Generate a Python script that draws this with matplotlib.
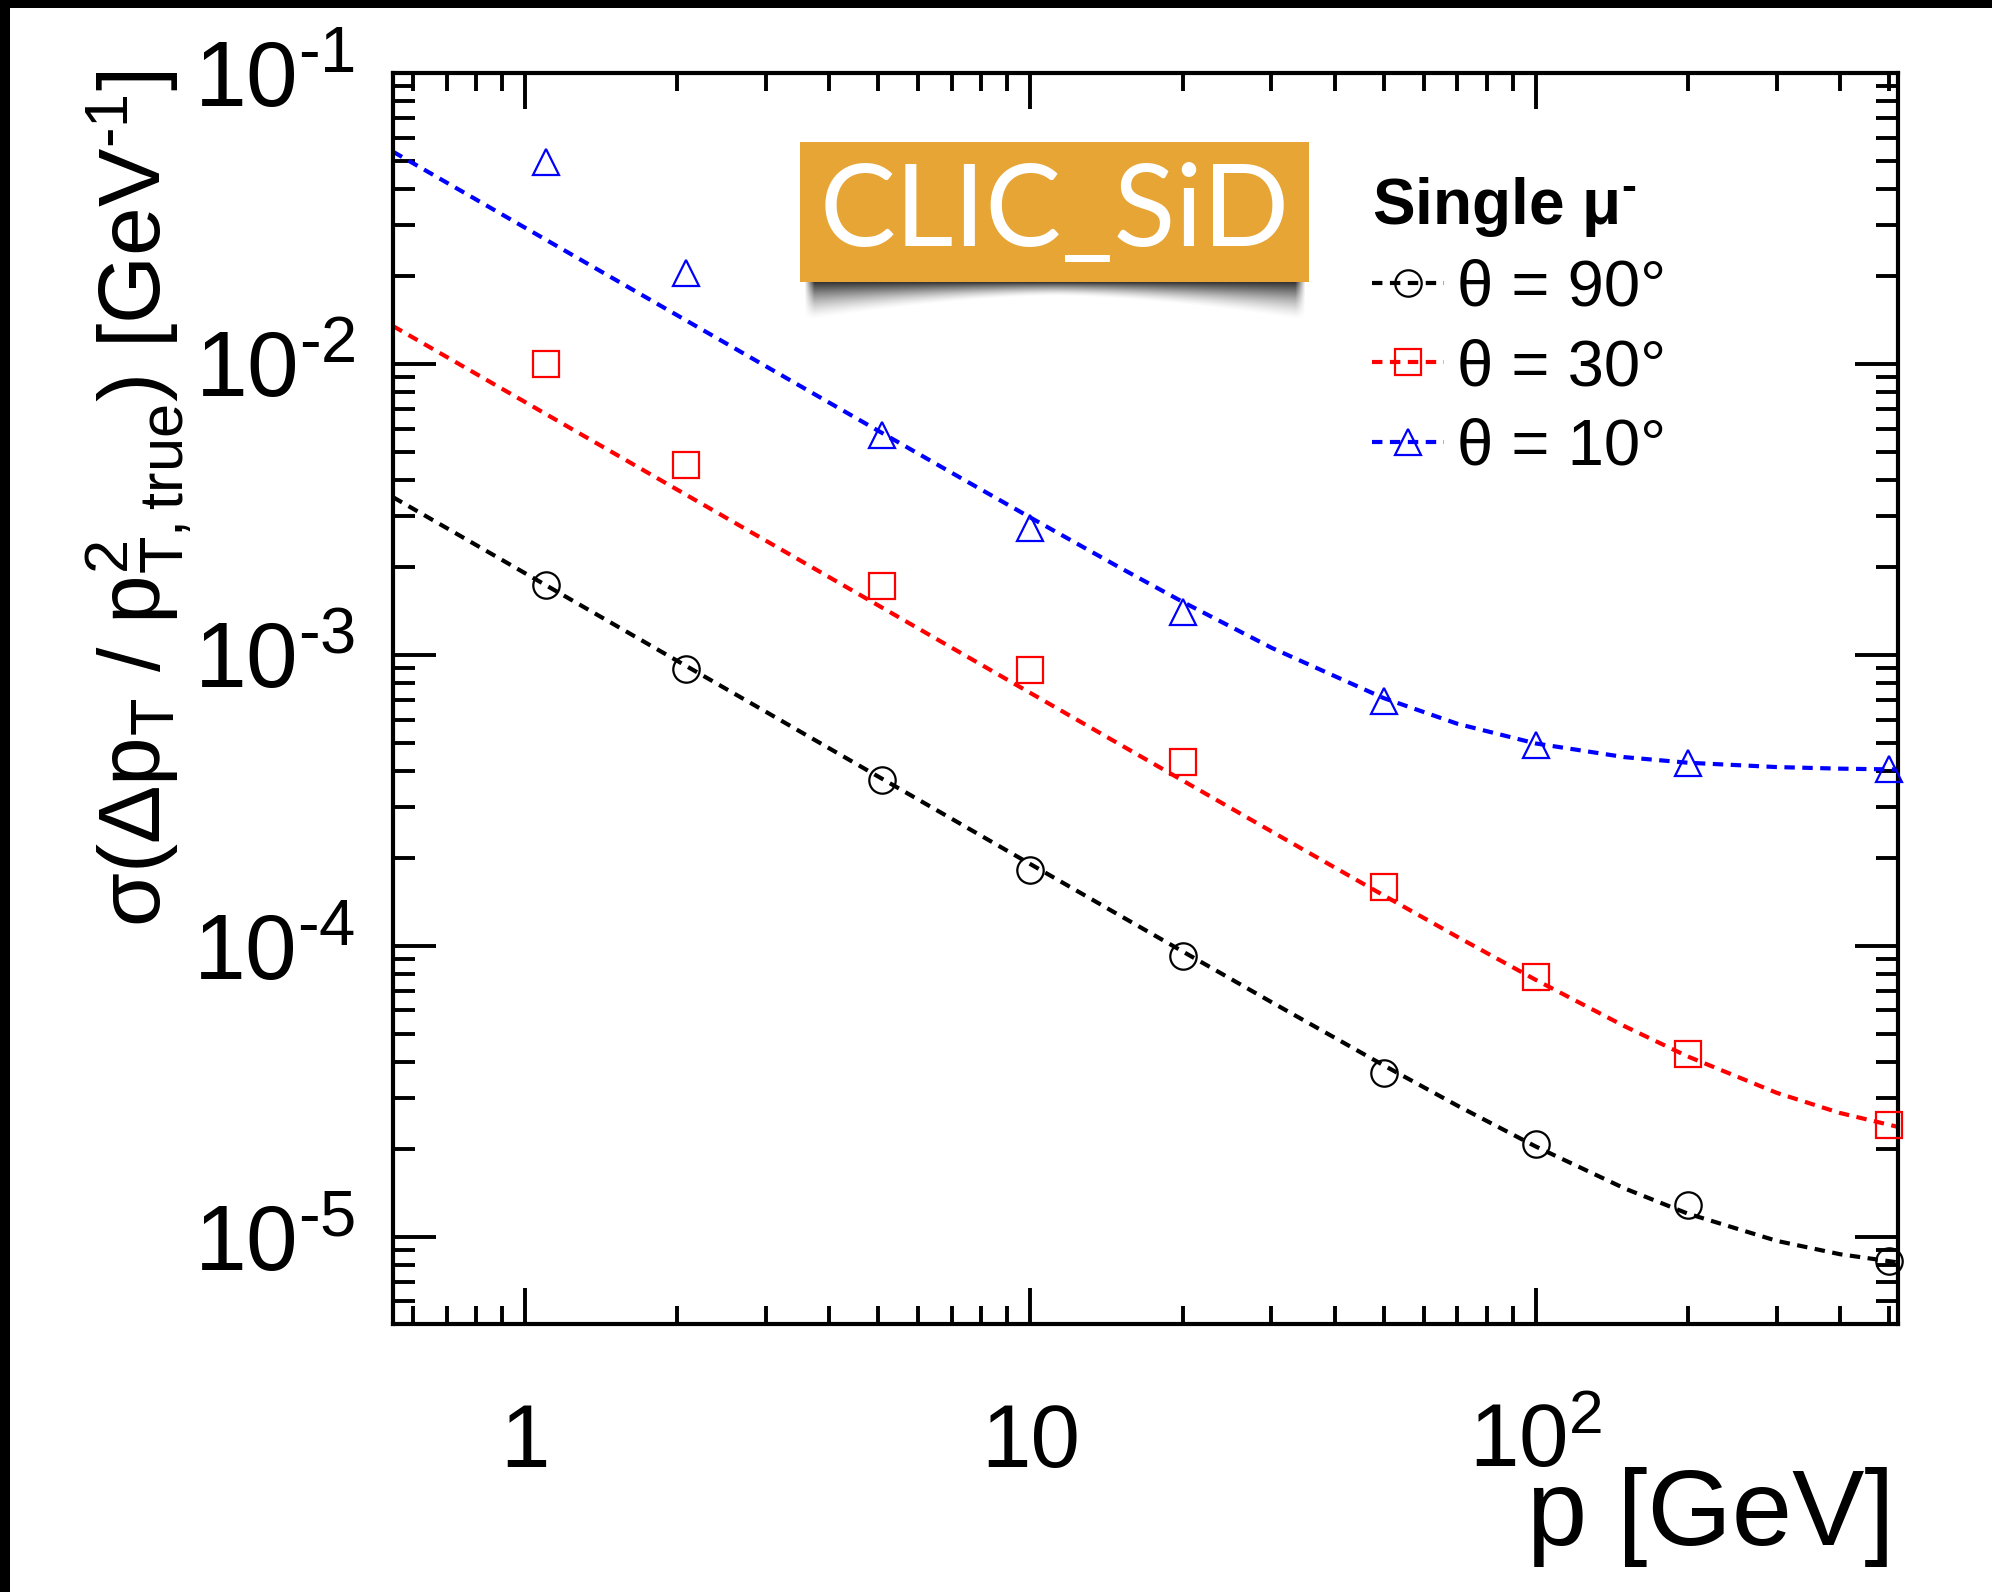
import numpy as np
import matplotlib
matplotlib.use("Agg")
import matplotlib.pyplot as plt
from matplotlib.lines import Line2D
from matplotlib.patches import Rectangle

plt.rcParams['font.family'] = ['Liberation Sans', 'DejaVu Sans']
plt.rcParams['mathtext.fontset'] = 'custom'
plt.rcParams['mathtext.rm'] = 'Liberation Sans'
plt.rcParams['mathtext.it'] = 'Liberation Sans:italic'
plt.rcParams['mathtext.bf'] = 'Liberation Sans:bold'

HY = '\u2010'  # short hyphen, ROOT style exponent sign

# measured points
p_meas = [1.1, 2.08, 5.08, 10, 20, 50, 100, 200, 500]
res_90 = [1.74e-3, 8.95e-4, 3.73e-4, 1.83e-4, 9.2e-5, 3.66e-5, 2.08e-5, 1.29e-5, 8.26e-6]
res_30 = [1.0e-2, 4.48e-3, 1.72e-3, 8.87e-4, 4.3e-4, 1.59e-4, 7.85e-5, 4.25e-5, 2.42e-5]
res_10 = [4.96e-2, 2.06e-2, 5.7e-3, 2.73e-3, 1.41e-3, 6.97e-4, 4.9e-4, 4.25e-4, 4.05e-4]

# fitted curves
p_fit = [0.548, 0.7, 1, 1.5, 2, 3, 5, 7, 10, 15, 20, 30, 50, 70, 100, 150, 200, 300, 400, 521]
fit_90 = [3.485e-3, 2.729e-3, 1.91e-3, 1.273e-3, 9.55e-4, 6.37e-4, 3.82e-4, 2.73e-4, 1.911e-4,
          1.275e-4, 9.58e-5, 6.41e-5, 3.889e-5, 2.825e-5, 2.045e-5, 1.467e-5, 1.202e-5,
          9.69e-6, 8.72e-6, 8.17e-6]
fit_30 = [1.35e-2, 1.057e-2, 7.4e-3, 4.933e-3, 3.7e-3, 2.467e-3, 1.48e-3, 1.057e-3, 7.402e-4,
          4.937e-4, 3.705e-4, 2.474e-4, 1.492e-4, 1.074e-4, 7.645e-5, 5.294e-5, 4.169e-5,
          3.126e-5, 2.666e-5, 2.388e-5]
fit_10 = [5.365e-2, 4.2e-2, 2.94e-2, 1.96e-2, 1.4705e-2, 9.808e-3, 5.894e-3, 4.219e-3, 2.967e-3,
          2.0e-3, 1.523e-3, 1.0585e-3, 7.11e-4, 5.8e-4, 4.964e-4, 4.454e-4, 4.262e-4,
          4.118e-4, 4.067e-4, 4.04e-4]

labels = ['θ = 90°', 'θ = 30°', 'θ = 10°']
colors = ['black', '#ff0000', '#0000ff']
markers = ['o', 's', '^']

W, H = 1992, 1592
fig = plt.figure(figsize=(W / 100, H / 100), dpi=100)
ax = fig.add_axes([393 / W, 268 / H, 1505 / W, 1251 / H])

dash = (0, (2.5, 1.8))
handles = []
for fit, meas, c, m in zip([fit_90, fit_30, fit_10], [res_90, res_30, res_10], colors, markers):
    ax.plot(p_fit, fit, color=c, lw=3, linestyle=dash, zorder=2)
    ax.plot(p_meas, meas, linestyle='none', marker=m, ms=19, mfc='none', mec=c, mew=1.6,
            zorder=3, clip_on=False)
    handles.append(Line2D([], [], color=c, lw=3, linestyle=dash, marker=m, ms=19,
                          mfc='none', mec=c, mew=1.6))

ax.set_xscale('log')
ax.set_yscale('log')
ax.set_xlim(0.548, 521)
ax.set_ylim(5.02e-6, 0.1)

for s in ax.spines.values():
    s.set_linewidth(3)

ax.tick_params(which='both', direction='in', top=True, right=True, width=2.8)
ax.tick_params(axis='x', which='major', length=26, pad=103, labelsize=64)
ax.tick_params(axis='x', which='minor', length=13)
ax.tick_params(axis='y', which='major', length=31, pad=27, labelsize=67)
ax.tick_params(axis='y', which='minor', length=16)

ax.set_xticks([1, 10, 100])
ax.set_xticklabels(['1', '10', r'$\mathregular{10^{2}}$'])
ax.set_xticks([v * d for d in [0.1, 1, 10, 100] for v in range(2, 10) if 0.548 < v * d < 521],
              minor=True)
ax.xaxis.set_minor_formatter(matplotlib.ticker.NullFormatter())
for t in ax.get_xticklabels():
    t.set_va('baseline')

ax.set_yticks([1e-5, 1e-4, 1e-3, 1e-2, 1e-1])
ax.set_yticklabels([r'$\mathregular{10^{' + HY + str(k) + '}}$' for k in [5, 4, 3, 2, 1]])

ax.set_xlabel('p [GeV]', fontsize=78, ha='right', va='baseline')
ax.xaxis.set_label_coords(0.998, -0.177)
ax.set_ylabel(r'$\mathregular{\sigma(\Delta p_{T}\ /\ p^{2}_{T,true})\ [GeV^{' + HY + '1}]}$',
              fontsize=63, rotation=90, rotation_mode='anchor', ha='right', va='center')
ax.yaxis.set_label_coords(-0.168, 1.002)

leg = ax.legend(handles, labels, title=r'Single $\mathregular{\mu^{' + HY + '}}$', loc='upper left',
                bbox_to_anchor=(1372 / W, 1 - 175 / H), bbox_transform=fig.transFigure,
                frameon=False, fontsize=47, title_fontproperties={'weight': 'bold', 'size': 46},
                alignment='left', handlelength=1.1, handletextpad=0.2, labelspacing=0.3,
                borderpad=0, borderaxespad=0)

# CLIC_SiD badge with a curled shadow underneath
bx0, by0, bw, bh = 800, 142, 509, 140
sh = 40
xx = np.linspace(-1, 1, 400)
yy = np.linspace(0, 1, 60)[:, None]
depth = 0.35 + 0.65 * np.abs(xx) ** 1.6
alpha = np.clip(1 - yy / depth, 0, 1) ** 1.5 * 0.8 * np.clip((1 - np.abs(xx)) * 25, 0, 1)
rgba = np.zeros((60, 400, 4))
rgba[..., 3] = alpha
shax = fig.add_axes([(bx0 + 4) / W, 1 - (by0 + bh + sh) / H, (bw - 8) / W, sh / H])
shax.imshow(rgba, aspect='auto', interpolation='bilinear')
shax.set_axis_off()
fig.add_artist(Rectangle((bx0 / W, 1 - (by0 + bh) / H), bw / W, bh / H,
                         transform=fig.transFigure, facecolor='#e6a535', edgecolor='none'))
fig.text((bx0 + bw / 2) / W, 1 - 214 / H, 'CLIC_SiD', color='white', fontsize=82,
         family=['Lato', 'DejaVu Sans'], weight='normal', ha='center', va='center')

# black frame on the top and left edges
fig.add_artist(Rectangle((0, 1 - 8 / H), 1, 8 / H, transform=fig.transFigure,
                         facecolor='black', edgecolor='none'))
fig.add_artist(Rectangle((0, 0), 10 / W, 1, transform=fig.transFigure,
                         facecolor='black', edgecolor='none'))

fig.savefig('out.png', dpi=100)
